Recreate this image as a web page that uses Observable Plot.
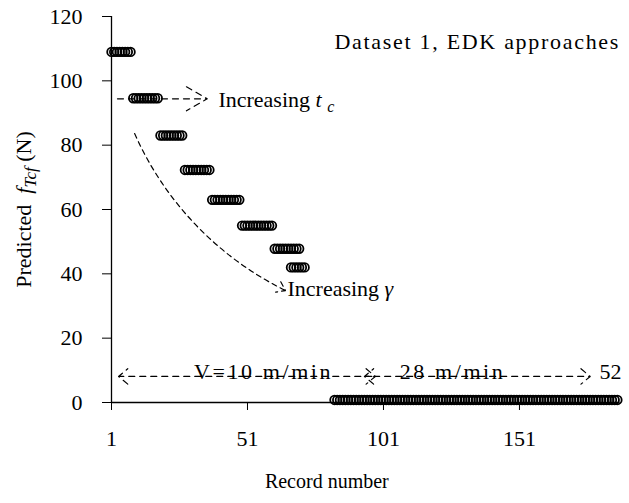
<!DOCTYPE html>
<html><head><meta charset="utf-8">
<script src="https://cdn.jsdelivr.net/npm/d3@7"></script>
<script src="https://cdn.jsdelivr.net/npm/@observablehq/plot@0.6"></script>
<style>body{margin:0;background:#fff}</style>
</head><body><div id="chart"></div>
<script>
// Predicted force levels (N) and the record ranges over which each level is repeated
const levelValues      = [109, 94.6, 83, 72.3, 63, 55, 47.8, 42, 0.8];
const levelFirstRecord = [1,   9,   19, 28,   38, 49, 61,   67, 83];
const levelLastRecord  = [8,   18,  27, 37,   48, 60, 70,   72, 187];
const xTicks = [1, 51, 101, 151];
const yTicks = [0, 20, 40, 60, 80, 100, 120];

const points = levelValues.flatMap((v, i) =>
  d3.range(levelFirstRecord[i], levelLastRecord[i] + 1).map(r => ({record: r, value: v})));

// annotation arrows (data units)
const bigArrows = [{x1: 3.2, y1: 94.4, x2: 36.2, y2: 94.4}];
const curveArrows = [{x1: 9.5, y1: 83.6, x2: 65, y2: 34.8}];
const speedArrows = [
  {x1: 50, y1: 8.1, x2: 3.6, y2: 8.1},
  {x1: 50, y1: 8.1, x2: 98, y2: 8.1},
  {x1: 136, y1: 8.1, x2: 94, y2: 8.1},
  {x1: 136, y1: 8.1, x2: 177, y2: 8.1}
];
const speedLabels = [
  {x: 56.9, y: 9.4, t: "V=10 m/min"},
  {x: 126.4, y: 9.4, t: "28 m/min"}
];

const sw = 1.2;
const chart = Plot.plot({
  width: 629, height: 503,
  marginLeft: 111, marginRight: 9.4, marginTop: 16, marginBottom: 101,
  style: {fontFamily: "'Liberation Serif', 'Times New Roman', serif", fontSize: "22px", color: "black", background: "white"},
  x: {domain: [1, 188]},
  y: {domain: [0, 120]},
  marks: [
    Plot.axisX({ticks: xTicks, tickSize: 8, tickPadding: 20, tickFormat: d => String(d), label: null, stroke: "black"}),
    Plot.axisY({ticks: yTicks, tickSize: 9, tickPadding: 20, tickFormat: d => String(d), label: null, stroke: "black"}),
    Plot.ruleX([1], {stroke: "black", strokeWidth: 1.3}),
    Plot.ruleY([0], {stroke: "black", strokeWidth: 1.3}),
    Plot.dot(points, {x: "record", y: "value", r: 4.3, stroke: "black", strokeWidth: 1.8, fill: "none"}),
    Plot.text(["Dataset 1, EDK approaches"], {x: 188, y: 112.2, text: d => d, textAnchor: "end", fill: "black", className: "spaced1"}),
    Plot.text(speedLabels, {x: "x", y: "y", text: "t", textAnchor: "middle", fill: "black", className: "spaced2"}),
    Plot.text(["52"], {x: 184.5, y: 9.4, text: d => d, textAnchor: "middle", fill: "black"}),
    Plot.text([{x: 40.3, y: 94}], {x: "x", y: "y", text: () => "Increasing t", textAnchor: "start", fill: "black", className: "tc-label"}),
    Plot.text([{x: 65.7, y: 35.2}], {x: "x", y: "y", text: () => "Increasing γ", textAnchor: "start", fill: "black", className: "gamma-label"}),
    Plot.text(["Predicted f (N)"], {frameAnchor: "left", dx: -88, rotate: -90, textAnchor: "middle", text: d => d, fill: "black", className: "ylab"}),
    Plot.text(["Record number"], {frameAnchor: "bottom", textAnchor: "middle", dx: -39, dy: 85, fontSize: 20, text: d => d, fill: "black"}),
    Plot.arrow(bigArrows, {x1: "x1", y1: "y1", x2: "x2", y2: "y2", stroke: "black", strokeWidth: sw, strokeDasharray: "6,5", headLength: 24 * 1.5 / sw, headAngle: 60}),
    Plot.arrow(curveArrows, {x1: "x1", y1: "y1", x2: "x2", y2: "y2", bend: -20, stroke: "black", strokeWidth: sw, strokeDasharray: "5,4", headLength: 10 * 1.5 / sw, headAngle: 70}),
    Plot.arrow(speedArrows, {x1: "x1", y1: "y1", x2: "x2", y2: "y2", stroke: "black", strokeWidth: sw, strokeDasharray: "6,5", headLength: 12 * 1.5 / sw, headAngle: 80})
  ]
});
document.getElementById("chart").appendChild(chart);
chart.querySelectorAll(".spaced1 text").forEach(t => t.setAttribute("letter-spacing", "1.7"));
chart.querySelectorAll(".spaced2 text").forEach(t => t.setAttribute("letter-spacing", "2.6"));

// rich text: italics and subscripts
const NS = "http://www.w3.org/2000/svg";
function rich(sel, parts) {
  const t = chart.querySelector(sel + " text");
  if (!t) return;
  t.textContent = "";
  t.setAttribute("xml:space", "preserve");
  t.style.whiteSpace = "pre";
  for (const p of parts) {
    const s = document.createElementNS(NS, "tspan");
    s.textContent = p.s;
    if (p.i) s.setAttribute("font-style", "italic");
    if (p.fs) s.setAttribute("font-size", p.fs);
    if (p.sub) s.setAttribute("baseline-shift", "-5");
    t.appendChild(s);
  }
}
rich(".tc-label", [{s: "Increasing "}, {s: "t", i: 1}, {s: " "}, {s: "c", i: 1, fs: "16px", sub: 1}]);
rich(".gamma-label", [{s: "Increasing "}, {s: "γ", i: 1}]);
rich(".ylab", [{s: "Predicted  "}, {s: "f", i: 1}, {s: "Tcf", i: 1, fs: "17px", sub: 1}, {s: " (N)"}]);
</script></body></html>
